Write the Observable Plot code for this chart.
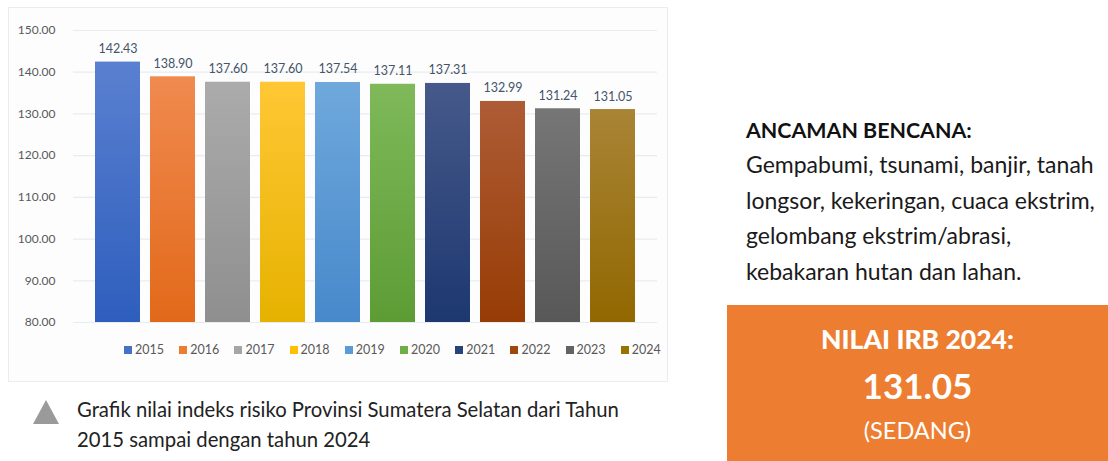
<!DOCTYPE html>
<html>
<head>
<meta charset="utf-8">
<script src="https://cdn.jsdelivr.net/npm/d3@7"></script>
<script src="https://cdn.jsdelivr.net/npm/@observablehq/plot@0.6"></script>
<style>
  html, body { margin: 0; padding: 0; background: #ffffff; width: 1108px; height: 461px; overflow: hidden; font-family: Lato, "Open Sans", sans-serif; }
  #panel { position: absolute; left: 8px; top: 7px; width: 660px; height: 375px; background: #fdfdfd; border: 1px solid #ececec; box-sizing: border-box; }
  #chart { position: absolute; left: 0; top: 0; }
  #legend { position: absolute; left: 0; top: 340px; height: 20px; }
  .li { position: absolute; top: 0; font-size: 12.5px; color: #595959; white-space: nowrap; line-height: 20px; }
  .li span.sw { display: inline-block; width: 8px; height: 8px; margin-right: 3px; vertical-align: 0px; }
  #caption { position: absolute; left: 77px; top: 394px; font-size: 20.3px; line-height: 30px; color: #222; white-space: nowrap; }
  #tri { position: absolute; left: 33px; top: 400px; width: 0; height: 0; border-left: 13px solid transparent; border-right: 13px solid transparent; border-bottom: 24px solid #9a9a9a; }
  #threat { position: absolute; left: 746px; top: 113px; color: #111; white-space: nowrap; }
  #threat .h { font-weight: bold; font-size: 21.4px; line-height: 34px; }
  #threat .b { font-size: 23px; line-height: 35.5px; color: #1a1a1a; }
  #box { position: absolute; left: 727px; top: 305px; width: 381px; height: 156px; background: #ED7D31; color: #fff; text-align: center; }
  #box .t1 { position: absolute; left: 0; right: 0; top: 18px; font-weight: 900; font-size: 26.5px; }
  #box .t2 { position: absolute; left: 0; right: 0; top: 59px; font-weight: bold; font-size: 35px; }
  #box .t3 { position: absolute; left: 0; right: 0; top: 111px; font-size: 23.5px; }
</style>
</head>
<body>
<div id="panel"></div>
<div id="chart"></div>
<div id="legend"></div>
<div id="tri"></div>
<div id="caption">Grafik nilai indeks risiko Provinsi Sumatera Selatan dari Tahun<br>2015 sampai dengan tahun 2024</div>
<div id="threat">
  <div class="h">ANCAMAN BENCANA:</div>
  <div class="b">Gempabumi, tsunami, banjir, tanah<br>longsor, kekeringan, cuaca ekstrim,<br>gelombang ekstrim/abrasi,<br>kebakaran hutan dan lahan.</div>
</div>
<div id="box">
  <div class="t1">NILAI IRB 2024:</div>
  <div class="t2">131.05</div>
  <div class="t3">(SEDANG)</div>
</div>
<script>
const years = ["2015","2016","2017","2018","2019","2020","2021","2022","2023","2024"];
const values = [142.43, 138.90, 137.60, 137.60, 137.54, 137.11, 137.31, 132.99, 131.24, 131.05];
const yTicks = [80, 90, 100, 110, 120, 130, 140, 150];
const colorsTop = ["#5a80d0","#f08a4f","#ababab","#ffc735","#6fa8dc","#7fb95a","#46598a","#ae5c36","#767676","#a98436"];
const colorsBottom = ["#2e5ebd","#e2691a","#8f8f8f","#e6b200","#4789cb","#5d9c35","#1d3870","#973c05","#585858","#916800"];
const legendColors = ["#4472C4","#ED7D31","#A5A5A5","#FFC000","#5B9BD5","#70AD47","#264478","#9E480E","#636363","#997300"];

const data = years.map((y, i) => ({year: y, value: values[i]}));

const svg = Plot.plot({
  width: 680,
  height: 340,
  marginLeft: 73,
  marginRight: 23,
  marginTop: 30,
  marginBottom: 18,
  style: { background: "transparent", fontFamily: "Lato, 'Open Sans', sans-serif", fontSize: "12px", color: "#595959" },
  x: { domain: years, axis: null, paddingInner: 0.18, paddingOuter: 0.31 },
  y: { domain: [80, 150], ticks: yTicks, tickFormat: d3.format(".2f"), tickSize: 0, tickPadding: 18, label: null, grid: false },
  color: { type: "ordinal", domain: years, range: years.map((_, i) => `url(#g${i})`) },
  marks: [
    Plot.ruleY(yTicks, { stroke: "#e8ecf0", strokeWidth: 1.2 }),
    Plot.barY(data, { x: "year", y1: 80, y2: "value", fill: "year" }),
    Plot.text(data, { x: "year", y: "value", text: d => d.value.toFixed(2), dy: -13, fill: "#44546a", fontSize: 12.5 })
  ]
});
const defs = d3.select(svg).insert("defs", ":first-child");
years.forEach((_, i) => {
  const g = defs.append("linearGradient").attr("id", `g${i}`).attr("x1", 0).attr("y1", 0).attr("x2", 0).attr("y2", 1);
  g.append("stop").attr("offset", "0%").attr("stop-color", colorsTop[i]);
  g.append("stop").attr("offset", "100%").attr("stop-color", colorsBottom[i]);
});
document.getElementById("chart").appendChild(svg);

const legend = document.getElementById("legend");
years.forEach((y, i) => {
  const el = document.createElement("div");
  el.className = "li";
  el.style.left = (124 + i * 55.2) + "px";
  el.innerHTML = `<span class="sw" style="background:${legendColors[i]}"></span>${y}`;
  legend.appendChild(el);
});
</script>
</body>
</html>
